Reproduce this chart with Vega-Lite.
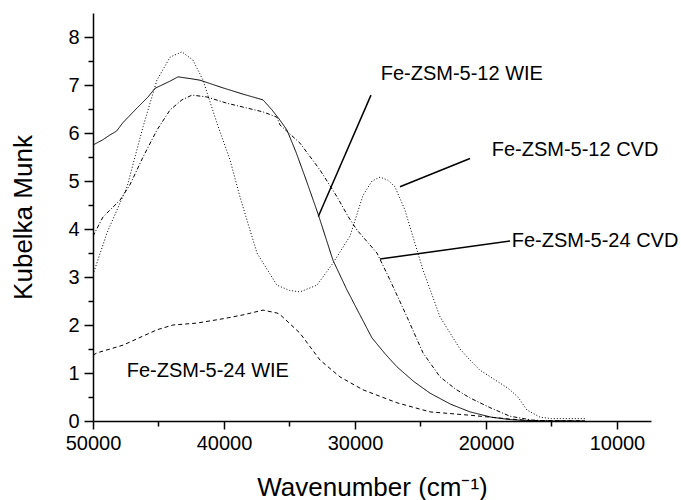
{
  "$schema": "https://vega.github.io/schema/vega-lite/v6.json",
  "width": 558,
  "height": 408,
  "autosize": {"type": "none"},
  "padding": {"left": 93, "top": 13, "right": 30, "bottom": 79},
  "background": "white",
  "config": {
    "view": {"stroke": null},
    "font": "Liberation Sans",
    "axis": {"grid": false, "domainColor": "black", "domainWidth": 1.5, "tickColor": "black", "tickWidth": 1.5, "labelColor": "black", "titleColor": "black", "labelFont": "Liberation Sans", "titleFont": "Liberation Sans", "labelFontSize": 20, "titleFontSize": 26, "titleFontWeight": "normal"}
  },
  "datasets": {
    "curves": [
      {"s": "WIE12", "x": 50000, "y": 5.75}, {"s": "WIE12", "x": 49300, "y": 5.85}, {"s": "WIE12", "x": 48700, "y": 5.96}, {"s": "WIE12", "x": 48200, "y": 6.04}, {"s": "WIE12", "x": 47700, "y": 6.22}, {"s": "WIE12", "x": 46640, "y": 6.52}, {"s": "WIE12", "x": 45800, "y": 6.75}, {"s": "WIE12", "x": 45270, "y": 6.93}, {"s": "WIE12", "x": 44120, "y": 7.08}, {"s": "WIE12", "x": 43510, "y": 7.17}, {"s": "WIE12", "x": 42500, "y": 7.13}, {"s": "WIE12", "x": 41830, "y": 7.1}, {"s": "WIE12", "x": 40080, "y": 6.94}, {"s": "WIE12", "x": 38550, "y": 6.81}, {"s": "WIE12", "x": 37020, "y": 6.69}, {"s": "WIE12", "x": 36330, "y": 6.48}, {"s": "WIE12", "x": 35730, "y": 6.27}, {"s": "WIE12", "x": 35190, "y": 6.06}, {"s": "WIE12", "x": 34500, "y": 5.6}, {"s": "WIE12", "x": 33700, "y": 5.0}, {"s": "WIE12", "x": 32800, "y": 4.3}, {"s": "WIE12", "x": 31680, "y": 3.35}, {"s": "WIE12", "x": 30610, "y": 2.73}, {"s": "WIE12", "x": 29600, "y": 2.2}, {"s": "WIE12", "x": 28700, "y": 1.73}, {"s": "WIE12", "x": 27700, "y": 1.4}, {"s": "WIE12", "x": 26800, "y": 1.13}, {"s": "WIE12", "x": 25500, "y": 0.82}, {"s": "WIE12", "x": 24270, "y": 0.58}, {"s": "WIE12", "x": 22700, "y": 0.35}, {"s": "WIE12", "x": 21220, "y": 0.19}, {"s": "WIE12", "x": 19600, "y": 0.08}, {"s": "WIE12", "x": 18170, "y": 0.03}, {"s": "WIE12", "x": 17000, "y": 0.01}, {"s": "WIE12", "x": 15000, "y": 0.0}, {"s": "WIE12", "x": 12440, "y": 0.0},
      {"s": "CVD24", "x": 50000, "y": 3.85}, {"s": "CVD24", "x": 49240, "y": 4.25}, {"s": "CVD24", "x": 47940, "y": 4.6}, {"s": "CVD24", "x": 47180, "y": 4.92}, {"s": "CVD24", "x": 46180, "y": 5.5}, {"s": "CVD24", "x": 45120, "y": 6.06}, {"s": "CVD24", "x": 44120, "y": 6.48}, {"s": "CVD24", "x": 43210, "y": 6.69}, {"s": "CVD24", "x": 42440, "y": 6.79}, {"s": "CVD24", "x": 41300, "y": 6.75}, {"s": "CVD24", "x": 39770, "y": 6.62}, {"s": "CVD24", "x": 38550, "y": 6.54}, {"s": "CVD24", "x": 37020, "y": 6.44}, {"s": "CVD24", "x": 35960, "y": 6.33}, {"s": "CVD24", "x": 35730, "y": 6.17}, {"s": "CVD24", "x": 34200, "y": 5.79}, {"s": "CVD24", "x": 32670, "y": 5.23}, {"s": "CVD24", "x": 31370, "y": 4.67}, {"s": "CVD24", "x": 30500, "y": 4.25}, {"s": "CVD24", "x": 29850, "y": 3.98}, {"s": "CVD24", "x": 28320, "y": 3.5}, {"s": "CVD24", "x": 27330, "y": 2.94}, {"s": "CVD24", "x": 26030, "y": 2.17}, {"s": "CVD24", "x": 24810, "y": 1.42}, {"s": "CVD24", "x": 23510, "y": 0.92}, {"s": "CVD24", "x": 22300, "y": 0.66}, {"s": "CVD24", "x": 21220, "y": 0.48}, {"s": "CVD24", "x": 19700, "y": 0.28}, {"s": "CVD24", "x": 18170, "y": 0.1}, {"s": "CVD24", "x": 16500, "y": 0.02}, {"s": "CVD24", "x": 15000, "y": 0.0}, {"s": "CVD24", "x": 12440, "y": 0.0},
      {"s": "CVD12", "x": 50000, "y": 3.05}, {"s": "CVD12", "x": 48930, "y": 3.92}, {"s": "CVD12", "x": 47400, "y": 4.88}, {"s": "CVD12", "x": 46180, "y": 6.13}, {"s": "CVD12", "x": 45120, "y": 7.1}, {"s": "CVD12", "x": 44120, "y": 7.58}, {"s": "CVD12", "x": 43210, "y": 7.69}, {"s": "CVD12", "x": 42370, "y": 7.52}, {"s": "CVD12", "x": 41600, "y": 7.1}, {"s": "CVD12", "x": 40530, "y": 6.2}, {"s": "CVD12", "x": 39540, "y": 5.44}, {"s": "CVD12", "x": 38780, "y": 4.67}, {"s": "CVD12", "x": 38250, "y": 4.19}, {"s": "CVD12", "x": 37480, "y": 3.5}, {"s": "CVD12", "x": 35960, "y": 2.83}, {"s": "CVD12", "x": 35000, "y": 2.72}, {"s": "CVD12", "x": 34200, "y": 2.69}, {"s": "CVD12", "x": 32900, "y": 2.83}, {"s": "CVD12", "x": 31680, "y": 3.29}, {"s": "CVD12", "x": 30380, "y": 3.85}, {"s": "CVD12", "x": 29390, "y": 4.7}, {"s": "CVD12", "x": 28700, "y": 5.0}, {"s": "CVD12", "x": 28090, "y": 5.08}, {"s": "CVD12", "x": 27500, "y": 5.02}, {"s": "CVD12", "x": 26950, "y": 4.88}, {"s": "CVD12", "x": 26190, "y": 4.4}, {"s": "CVD12", "x": 25960, "y": 4.19}, {"s": "CVD12", "x": 24810, "y": 3.15}, {"s": "CVD12", "x": 23510, "y": 2.17}, {"s": "CVD12", "x": 21980, "y": 1.5}, {"s": "CVD12", "x": 21220, "y": 1.27}, {"s": "CVD12", "x": 20460, "y": 1.06}, {"s": "CVD12", "x": 18930, "y": 0.79}, {"s": "CVD12", "x": 18300, "y": 0.68}, {"s": "CVD12", "x": 17560, "y": 0.5}, {"s": "CVD12", "x": 16870, "y": 0.23}, {"s": "CVD12", "x": 15880, "y": 0.08}, {"s": "CVD12", "x": 15000, "y": 0.05}, {"s": "CVD12", "x": 12440, "y": 0.05},
      {"s": "WIE24", "x": 50000, "y": 1.37}, {"s": "WIE24", "x": 49690, "y": 1.42}, {"s": "WIE24", "x": 47710, "y": 1.58}, {"s": "WIE24", "x": 45120, "y": 1.9}, {"s": "WIE24", "x": 43900, "y": 2.0}, {"s": "WIE24", "x": 42060, "y": 2.04}, {"s": "WIE24", "x": 40080, "y": 2.13}, {"s": "WIE24", "x": 38550, "y": 2.21}, {"s": "WIE24", "x": 37020, "y": 2.31}, {"s": "WIE24", "x": 35960, "y": 2.25}, {"s": "WIE24", "x": 35730, "y": 2.22}, {"s": "WIE24", "x": 34200, "y": 1.83}, {"s": "WIE24", "x": 32670, "y": 1.27}, {"s": "WIE24", "x": 31150, "y": 0.92}, {"s": "WIE24", "x": 29390, "y": 0.65}, {"s": "WIE24", "x": 26800, "y": 0.38}, {"s": "WIE24", "x": 24270, "y": 0.19}, {"s": "WIE24", "x": 21220, "y": 0.12}, {"s": "WIE24", "x": 18170, "y": 0.04}, {"s": "WIE24", "x": 16500, "y": 0.01}, {"s": "WIE24", "x": 12440, "y": 0.0}
    ],
    "pointers": [
      {"x": 32800, "y": 4.26, "x2": 28778, "y2": 6.79},
      {"x": 26564, "y": 4.88, "x2": 21220, "y2": 5.47},
      {"x": 28090, "y": 3.375, "x2": 18160, "y2": 3.75}
    ],
    "labels": [
      {"x": 28037, "y": 7.1, "t": "Fe-ZSM-5-12 WIE"},
      {"x": 19563, "y": 5.52, "t": "Fe-ZSM-5-12 CVD"},
      {"x": 18036, "y": 3.63, "t": "Fe-ZSM-5-24 CVD"},
      {"x": 47427, "y": 0.91, "t": "Fe-ZSM-5-24 WIE"}
    ]
  },
  "encoding": {
    "x": {
      "field": "x", "type": "quantitative",
      "scale": {"domain": [50000, 7400], "nice": false, "zero": false},
      "axis": {
        "title": "Wavenumber (cm⁻¹)",
        "values": [50000, 45000, 40000, 35000, 30000, 25000, 20000, 15000, 10000],
        "labelExpr": "datum.value % 10000 === 0 ? format(datum.value, 'd') : ''",
        "tickSize": {"condition": {"test": "datum.value % 10000 === 0", "value": 8}, "value": 5},
        "labelPadding": 4, "titlePadding": 21, "labelOverlap": false, "labelFlush": false
      }
    },
    "y": {
      "field": "y", "type": "quantitative",
      "scale": {"domain": [0, 8.5], "nice": false},
      "axis": {
        "title": "Kubelka Munk",
        "values": [0, 0.5, 1, 1.5, 2, 2.5, 3, 3.5, 4, 4.5, 5, 5.5, 6, 6.5, 7, 7.5, 8],
        "labelExpr": "datum.value % 1 === 0 ? format(datum.value, 'd') : ''",
        "tickSize": {"condition": {"test": "datum.value % 1 === 0", "value": 9}, "value": 5},
        "labelPadding": 5, "titlePadding": 31, "labelOverlap": false, "labelFlush": false
      }
    }
  },
  "layer": [
    {
      "data": {"name": "curves"},
      "mark": {"type": "line", "color": "black", "strokeWidth": 1, "clip": true},
      "encoding": {
        "detail": {"field": "s"},
        "strokeDash": {
          "field": "s", "type": "nominal",
          "scale": {"domain": ["WIE12", "CVD24", "CVD12", "WIE24"], "range": [[1, 0], [4, 2, 1, 2], [1, 2], [4, 3]]},
          "legend": null
        }
      }
    },
    {
      "data": {"name": "pointers"},
      "mark": {"type": "rule", "color": "black", "strokeWidth": 1.5},
      "encoding": {"x2": {"field": "x2"}, "y2": {"field": "y2"}}
    },
    {
      "data": {"name": "labels"},
      "mark": {"type": "text", "align": "left", "baseline": "alphabetic", "fontSize": 20, "font": "Liberation Sans", "color": "black"},
      "encoding": {"text": {"field": "t"}}
    }
  ]
}
